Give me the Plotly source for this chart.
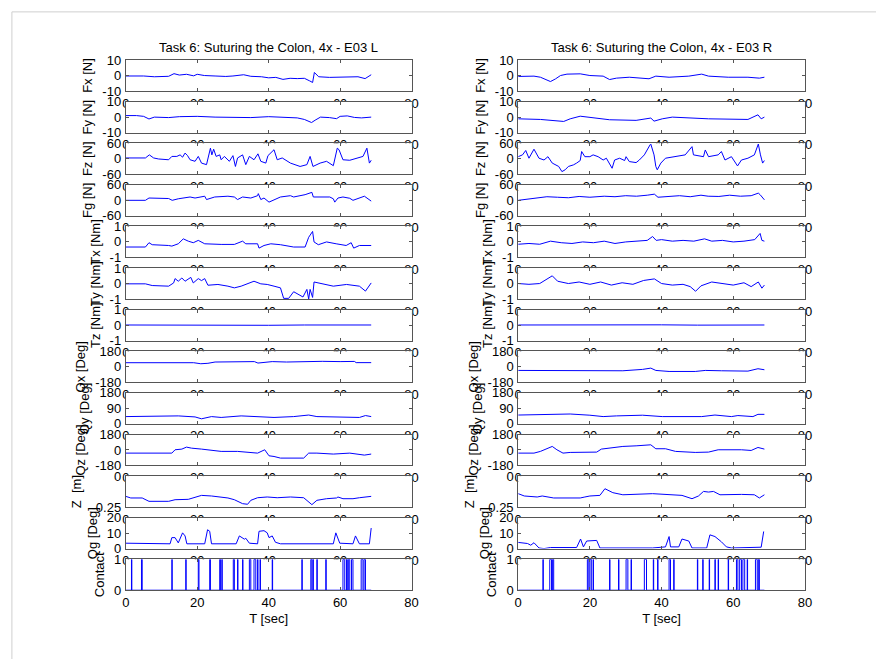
import plotly.graph_objects as go

# ---------------- data ----------------
x_ticks = [0, 20, 40, 60, 80]

# ---- left hand (E03 L) ----
fx_l_t = [0, 5, 8, 12, 13.5, 15, 17, 19, 20, 22, 25, 28, 30, 33, 35, 38, 40, 42, 44, 46, 48, 50, 51.5, 52.3, 52.8, 54, 57, 60, 63, 65, 67, 68.7]
fx_l_v = [-0.3, -0.3, -0.8, -0.5, 1.2, 0.3, 0.8, -0.2, 0.8, 0, -0.3, -0.6, -0.3, 0.5, -0.5, -0.8, -1.5, -1.2, -2.5, -1.8, -2.0, -1.8, -3.5, -4.5, 2.0, -0.8, -1.2, -1.0, -1.0, -0.8, -2.0, 0.5]

fy_l_t = [0, 3, 5, 6.5, 8, 12, 15, 20, 25, 30, 35, 40, 45, 48, 50, 52, 53, 54.5, 57, 59, 60, 62, 64, 66, 68.7]
fy_l_v = [1.0, 1.0, 0.5, -1.2, 0, -0.3, 0.3, 0.5, 0, 0, -0.3, 0.3, 0, -0.5, -1.5, -3.5, -2.0, 0, -0.3, -1, 0.5, 0.8, -0.2, -0.5, 0]

fz_l_t = [0, 5.5, 6.6, 7.8, 9.2, 12, 12.9, 14.3, 15.2, 15.9, 16.6, 17.3, 18, 19.4, 20.3, 21.2, 22.6, 23.7, 24.1, 24.6, 25.3, 26.3, 26.7, 27.6, 29, 30, 30.7, 31.3, 32.7, 33.6, 34.6, 35.9, 37, 37.8, 39.2, 39.8, 41.5, 42.4, 43.8, 46.1, 48.8, 50.7, 51.6, 52.4, 54.4, 56.2, 58.1, 59.2, 59.7, 60.8, 62.7, 65, 66.4, 67.5, 68.2, 68.7]
fz_l_v = [3, 3, 15, 3, -1, -4, 9, 9, 15, 6, 22, 12, -4, -10, 9, -17, -23, 41, 15, 37, 9, 15, -4, 9, -10, 12, -30, 3, 15, -23, 9, -4, 19, -10, -17, 12, 35, -4, 3, -17, -30, -23, 9, -30, -17, -10, -27, 41, 35, -4, -6, 3, 9, 41, -17, -6]

fg_l_t = [0, 5.5, 6.5, 12, 13, 14.7, 18, 19.4, 22.1, 22.6, 24.9, 28.6, 30.4, 31.3, 32.7, 35, 36.9, 37.1, 37.8, 38.7, 40.1, 41.5, 43.3, 46.1, 47, 50.2, 52.1, 52.5, 55.3, 57.1, 58.1, 58.5, 59.4, 60.8, 62.7, 63.6, 66.8, 68.7]
fg_l_v = [0, 0, 9, 7, 0, 6, 13, 9, 16, 3, 13, 16, 13, 3, 13, 9, 18, 26, 3, 9, -7, 3, 13, 18, 13, 22, 31, 13, 13, 13, 6, -7, 9, 13, 8, 0, 16, -3]

tx_l_t = [0, 5.5, 6.5, 7.4, 12, 12.9, 14.7, 16.1, 17.5, 18.9, 20.3, 22.1, 26.7, 30.4, 32.7, 33.6, 36.9, 37.3, 38.7, 40.6, 43.3, 47, 50.2, 51.2, 52.3, 52.7, 53.9, 56.2, 58.9, 61.7, 63.1, 63.8, 65.4, 68.7]
tx_l_v = [-0.33, -0.33, -0.05, -0.18, -0.23, -0.27, -0.12, 0.2, 0.05, -0.05, 0.1, -0.12, -0.16, -0.16, 0.05, -0.12, -0.12, -0.4, -0.23, -0.12, -0.18, -0.33, -0.33, 0.3, 0.68, 0, -0.18, 0, -0.12, -0.23, -0.05, -0.4, -0.23, -0.23]

ty_l_t = [0, 5.5, 7.4, 12, 13.4, 13.8, 14.7, 15.7, 16.6, 18.2, 18.9, 20.3, 21.2, 22.1, 23, 25.8, 28.6, 30.4, 32.3, 35, 35.9, 37.8, 39.6, 41.5, 43.3, 44.2, 45.6, 47, 49.6, 50.7, 51.2, 51.6, 52.3, 52.7, 56.2, 58.1, 61.8, 65.4, 67.1, 68.7]
ty_l_v = [-0.02, -0.02, -0.13, -0.17, 0.04, 0.32, 0.15, 0.36, 0.15, 0.4, 0.04, 0.32, 0.19, 0.32, -0.11, -0.06, -0.17, -0.28, -0.17, 0.04, 0.15, -0.02, -0.06, -0.17, -0.28, -0.96, -0.96, -0.53, -0.87, -0.38, -1.0, -0.38, -0.9, 0.1, -0.06, -0.17, -0.06, -0.17, -0.49, 0.04]

tz_l_t = [0, 10, 20, 30, 40, 50, 60, 68.7]
tz_l_v = [0.01, 0.0, 0.02, 0.01, -0.01, 0.01, 0.0, 0.01]

qx_l_t = [0, 19, 21, 23, 25, 30, 36, 37, 39, 41, 45, 50, 55, 60, 64, 64.5, 68.7]
qx_l_v = [47, 47, 35, 40, 55, 60, 60, 43, 53, 60, 55, 60, 63, 60, 62, 48, 48]

qy_l_t = [0, 14.7, 19.4, 21.2, 24, 26.7, 32.3, 37.8, 41.5, 47, 51.2, 53.5, 59.9, 65.4, 67.1, 68.7]
qy_l_v = [42, 46, 40, 29, 42, 37, 46, 40, 37, 42, 51, 42, 40, 37, 48, 42]

qz_l_t = [0, 12.9, 13.8, 15.7, 17, 18.4, 21.2, 24, 26.7, 31.3, 34.1, 36.9, 38.9, 40.1, 41.5, 43.3, 49.8, 51.2, 53.5, 58.1, 62.7, 66.8, 68.7]
qz_l_v = [-37, -37, 2, 10, 33, 21, 10, -6, -17, -17, -29, -37, 2, -68, -76, -95, -95, -37, -37, -48, -37, -60, -48]

z_l_t = [0, 1.4, 4.6, 6.5, 12, 13.8, 17.5, 18.9, 20.3, 21.2, 24, 28.6, 30.4, 32.7, 34.1, 35, 36.9, 39.6, 42.4, 46.1, 49.8, 51.2, 52.1, 53.5, 56.2, 59, 59.4, 60.8, 63.6, 65.4, 68.7]
z_l_v = [-0.164, -0.177, -0.177, -0.204, -0.204, -0.191, -0.188, -0.177, -0.164, -0.156, -0.161, -0.177, -0.191, -0.223, -0.228, -0.196, -0.175, -0.169, -0.175, -0.169, -0.175, -0.21, -0.231, -0.196, -0.183, -0.177, -0.169, -0.183, -0.183, -0.175, -0.164]

qg_l_t = [0, 4.6, 5.5, 12.4, 12.9, 13.8, 14.7, 15.9, 16.6, 17.1, 22.1, 22.9, 23.5, 24, 30.9, 31.8, 33.2, 33.6, 34.6, 36.9, 37.3, 38.7, 39.6, 40.1, 41, 41.9, 43.3, 58.1, 58.8, 59.9, 63.6, 64.3, 65.4, 68.2, 68.7]
qg_l_v = [3.5, 3.5, 3.1, 3.1, 7.1, 7.1, 3.7, 10.2, 8.2, 3.1, 3.1, 12.2, 11.2, 3.1, 3.1, 8.2, 6.1, 6.7, 3.5, 3.1, 11.2, 11.6, 10.2, 7.1, 8.2, 4.1, 3.1, 3.1, 10.2, 3.5, 3.1, 8.2, 3.1, 3.1, 13.3]

contact_l_on = [1.6, 4.4, 12.9, 16.8, 20.3, 23.5, 26.3, 26.9, 30.1, 31.3, 32.7, 34.6, 35.9, 36.9, 37.6, 41.0, 49.3, 51.8, 52.4, 53.5, 56.0, 60.8, 61.8, 62.3, 63.2, 65.9, 66.7]
contact_l_off = [1.7, 4.6, 13.0, 16.9, 20.5, 23.7, 26.5, 27.0, 30.4, 31.4, 32.8, 35.0, 36.4, 37.0, 37.7, 41.1, 49.4, 52.1, 52.5, 53.6, 56.1, 61.3, 62.0, 62.7, 63.6, 66.4, 67.1]
t_end_l = 68.7

# ---- right hand (E03 R) ----
fx_r_t = [0, 4.4, 6.2, 9, 10.4, 11.8, 13.6, 17.3, 20, 23.7, 25.5, 27.4, 31, 36.5, 38.4, 42.1, 47.6, 51.2, 53.1, 58.6, 64.1, 67.3, 68.7]
fx_r_v = [-0.6, -0.4, -1.1, -3.9, -2.2, 0, 0.9, 1.1, 0, -0.4, -2.6, -1.7, -1.1, -2.1, -0.4, -1.1, -0.4, 0.9, -0.4, -1.1, -1.1, -1.7, -1.1]

fy_r_t = [0, 6.2, 12.7, 14.5, 17.3, 20.9, 25.5, 32.9, 37, 37.9, 40.2, 43, 47.6, 53.1, 64.1, 66.9, 67.8, 68.7]
fy_r_v = [-1.1, -1.5, -2.8, -1.1, 0.6, -0.4, -1.7, -2.1, -0.6, -2.6, -1.1, 0, -0.6, -1.1, -1.5, 1.5, -1.1, 0]

fz_r_t = [0, 1.2, 2.1, 3, 4.4, 5.8, 7.2, 8.3, 9.5, 10.4, 11.3, 12.2, 13.1, 14, 15.4, 16.3, 17.3, 17.7, 18.6, 20, 20.9, 22.3, 23.7, 24.6, 26.2, 26.9, 28.3, 29.7, 30.1, 31, 32.9, 33.8, 35.2, 36.8, 37, 37.9, 38.4, 38.8, 39.8, 41.1, 43.9, 46.6, 48.5, 48.9, 51.7, 52.2, 53.1, 55.8, 56.7, 57.7, 59.5, 61.2, 62.3, 64.1, 65.9, 67, 67.6, 68.2, 68.7]
fz_r_v = [8, 15, 32, 2, 37, 2, -5, 8, -17, -24, -30, -50, -43, -30, -24, -17, -7, 28, 8, 8, 15, 8, -5, 2, -37, -5, 2, -7, 8, -11, -15, -5, 15, 54, 57, 15, -30, -43, -17, 2, 8, 15, 47, 15, 8, 34, 8, 15, 28, -5, 8, -28, -5, 2, 15, 57, 15, -17, -7]

fg_r_t = [0, 2, 5, 8, 11, 14, 17, 20, 24, 27, 30, 33, 36, 38, 39, 42, 45, 48, 51, 53, 56, 59, 62, 65, 67, 67.5, 68, 68.7]
fg_r_v = [0, 3, 8, 14, 12, 10, 15, 12, 16, 14, 18, 16, 20, 24, 12, 15, 18, 14, 20, 16, 15, 20, 16, 18, 28, 22, 12, 2]

tx_r_t = [0, 3, 6, 9, 12, 15, 18, 21, 24, 27, 30, 33, 36, 37.5, 38.5, 40, 43, 46, 49, 52, 54, 57, 60, 63, 66, 67.5, 68, 68.7]
tx_r_v = [-0.15, -0.1, -0.15, 0.05, -0.05, -0.1, 0, -0.05, 0.05, -0.1, 0, 0.05, 0.1, 0.35, 0.1, 0.15, 0.05, 0.1, 0.05, 0.2, 0.05, 0.1, 0, 0.05, 0.15, 0.55, 0.1, 0.05]

ty_r_t = [0, 3, 6, 8, 9.5, 11, 14, 17, 20, 23, 26, 29, 32, 35, 38, 40, 43, 46, 48, 49.5, 51, 54, 57, 60, 63, 65, 67, 68, 68.7]
ty_r_v = [0, -0.05, 0, 0.3, 0.5, 0.15, 0, 0.1, -0.05, 0.1, -0.1, 0.05, -0.05, 0.2, 0.3, 0, -0.1, -0.05, -0.2, -0.5, -0.15, 0.1, 0, -0.1, 0.05, -0.2, 0.1, -0.3, -0.1]

tz_r_t = [0, 10, 20, 30, 40, 50, 60, 68.7]
tz_r_v = [0.01, 0.02, 0.0, 0.01, 0.02, 0.0, 0.01, 0.01]

qx_r_t = [0, 20, 21.9, 29.2, 34.7, 37, 38.4, 42.1, 49.4, 52.2, 56.7, 64.1, 66.9, 68.7]
qx_r_v = [-43, -43, -51, -47, -31, -16, -43, -55, -55, -43, -47, -51, -23, -35]

qy_r_t = [0, 6.2, 14.5, 20, 23.7, 27.4, 34.7, 40.2, 47.6, 51.2, 54.9, 59.5, 61.3, 65.5, 66.9, 68.7]
qy_r_v = [51, 55, 57, 50, 42, 46, 50, 42, 44, 42, 51, 42, 48, 42, 55, 55]

qz_r_t = [0, 4.4, 6.2, 9.5, 10.8, 12.5, 14.5, 21.9, 23.2, 26.4, 29.2, 32.9, 37, 38.4, 41.1, 43.9, 49.4, 53.1, 55.8, 62.3, 65, 66.9, 68.7]
qz_r_v = [-37, -37, -17, 41, 2, -37, -29, -25, 10, 29, 41, 48, 60, 14, 14, -17, -29, -25, 2, 2, -6, 29, 10]

z_r_t = [0, 1.7, 5.3, 6.7, 9.9, 17.3, 18.6, 20, 22.8, 24.2, 26.4, 29.2, 37.5, 42.1, 45.7, 48.5, 50.3, 51.7, 53.1, 54.5, 56.3, 62.3, 65.9, 67.3, 68.7]
z_r_v = [-0.142, -0.161, -0.169, -0.161, -0.177, -0.177, -0.169, -0.161, -0.156, -0.102, -0.134, -0.151, -0.142, -0.151, -0.156, -0.183, -0.161, -0.124, -0.129, -0.124, -0.151, -0.148, -0.151, -0.177, -0.151]

qg_r_t = [0, 2.6, 3.5, 4.4, 5.8, 7.2, 9, 16.3, 17.4, 18.2, 19.1, 21.9, 22.8, 37.5, 41.1, 42.1, 42.5, 44.8, 45.7, 47.6, 48.5, 52.6, 53.5, 54.9, 56.7, 58.1, 59.5, 67.8, 68.5]
qg_r_v = [4, 3.3, 2.2, 3.8, 0.4, 0, 0.7, 0.7, 6.2, 1.1, 4.9, 5.3, 0.4, 0.4, 1.1, 7.8, 1.1, 1.1, 6.2, 4.9, 0.4, 0.4, 8.9, 7.8, 4.4, 1.1, 0.4, 0.9, 11.1]

contact_r_on = [6.9, 8.8, 9.6, 19.3, 20.0, 20.9, 25.5, 28.0, 30.1, 31.5, 35.2, 37.7, 38.9, 42.1, 43.4, 50.0, 51.5, 53.3, 54.9, 55.8, 58.6, 60.9, 61.8, 62.7, 63.9, 66.2, 67.0]
contact_r_off = [7.0, 9.3, 9.9, 19.7, 20.4, 21.0, 25.6, 28.1, 30.6, 31.6, 35.8, 37.8, 39.0, 42.5, 43.5, 50.1, 51.6, 53.4, 55.0, 55.9, 58.7, 61.3, 62.3, 63.2, 64.0, 66.7, 67.3]
t_end_r = 68.7

col_titles = ["Task 6: Suturing the Colon, 4x - E03 L", "Task 6: Suturing the Colon, 4x - E03 R"]
x_title = "T [sec]"
row_labels = ["Fx [N]", "Fy [N]", "Fz [N]", "Fg [N]", "Tx [Nm]", "Ty [Nm]", "Tz [Nm]",
              "Qx [Deg]", "Qy [Deg]", "Qz [Deg]", "Z\u00a0 [m]", "Qg [Deg]", "Contact"]
row_tickvals = [[-10, 0, 10], [-10, 0, 10], [-60, 0, 60], [-60, 0, 60], [-1, 0, 1], [-1, 0, 1], [-1, 0, 1],
                [-180, 0, 180], [0, 90, 180], [-180, 0, 180], [-0.25, 0], [0, 10, 20], [0, 1]]
row_ticktext = [["-10", "0", "10"], ["-10", "0", "10"], ["-60", "0", "60"], ["-60", "0", "60"],
                ["-1", "0", "1"], ["-1", "0", "1"], ["-1", "0", "1"],
                ["-180", "0", "180"], ["0", "90", "180"], ["-180", "0", "180"], ["-0.25", "0"],
                ["0", "10", "20"], ["0", "1"]]


def step_series(on, off, t_end):
    xs, ys = [0], [0]
    for a, b in zip(on, off):
        xs += [a, a, b, b]
        ys += [0, 1, 1, 0]
    xs.append(t_end)
    ys.append(0)
    return xs, ys


cl_t, cl_v = step_series(contact_l_on, contact_l_off, t_end_l)
cr_t, cr_v = step_series(contact_r_on, contact_r_off, t_end_r)

left_series = [(fx_l_t, fx_l_v), (fy_l_t, fy_l_v), (fz_l_t, fz_l_v), (fg_l_t, fg_l_v),
               (tx_l_t, tx_l_v), (ty_l_t, ty_l_v), (tz_l_t, tz_l_v), (qx_l_t, qx_l_v),
               (qy_l_t, qy_l_v), (qz_l_t, qz_l_v), (z_l_t, z_l_v), (qg_l_t, qg_l_v), (cl_t, cl_v)]
right_series = [(fx_r_t, fx_r_v), (fy_r_t, fy_r_v), (fz_r_t, fz_r_v), (fg_r_t, fg_r_v),
                (tx_r_t, tx_r_v), (ty_r_t, ty_r_v), (tz_r_t, tz_r_v), (qx_r_t, qx_r_v),
                (qy_r_t, qy_r_v), (qz_r_t, qz_r_v), (z_r_t, z_r_v), (qg_r_t, qg_r_v), (cr_t, cr_v)]

# ---------------- layout geometry (pixels) ----------------
W, H = 883, 667
FONT = "Liberation Sans, Arial, Helvetica, sans-serif"
AXC = "#555555"
BLUE = "#0000ff"
TOP0, PITCH, PH = 54.3, 42.56, 31.6
COLS = [(123.3, 412.7), (520.7, 811.0)]
NROW = 13

fig = go.Figure()
# invisible host trace on a full-page subplot: every panel then paints its own
# background, so a lower panel hides the x tick labels of the panel above it.
fig.add_trace(go.Scatter(x=[None], y=[None], mode="lines", xaxis="x", yaxis="y",
                         hoverinfo="skip", showlegend=False))

layout = dict(
    width=W, height=H, margin=dict(l=0, r=0, t=0, b=0),
    paper_bgcolor="white", plot_bgcolor="white", showlegend=False,
    font=dict(family=FONT, size=13, color="black"),
    xaxis=dict(domain=[0, 1], anchor="y", range=[0, 1], showline=False, showgrid=False,
               zeroline=False, showticklabels=False, ticks=""),
    yaxis=dict(domain=[0, 1], anchor="x", range=[0, 1], showline=False, showgrid=False,
               zeroline=False, showticklabels=False, ticks=""),
)

for c, series in enumerate([left_series, right_series]):
    x0, x1 = COLS[c]
    for r in range(NROW):
        n = 2 + c * NROW + r
        top = TOP0 + r * PITCH
        ydom = [1 - (top + PH) / H, 1 - top / H]
        xdom = [x0 / W, x1 / W]
        t, v = series[r]
        fig.add_trace(go.Scatter(x=t, y=v, mode="lines", line=dict(color=BLUE, width=1),
                                 xaxis=f"x{n}", yaxis=f"y{n}", hoverinfo="skip", showlegend=False))
        xa = dict(domain=xdom, anchor=f"y{n}", range=[0, 80], tickvals=x_ticks,
                  ticks="inside", ticklen=3, tickcolor=AXC, showline=True, linecolor=AXC,
                  linewidth=1, mirror="ticks", showgrid=False, zeroline=False,
                  tickfont=dict(size=13, color="black", family=FONT))
        if r == NROW - 1:
            xa["title"] = dict(text=x_title, font=dict(size=13, family=FONT), standoff=5)
        ya = dict(domain=ydom, anchor=f"x{n}",
                  range=[row_tickvals[r][0], row_tickvals[r][-1]],
                  tickvals=row_tickvals[r], ticktext=row_ticktext[r],
                  ticks="inside", ticklen=3, tickcolor=AXC, showline=True, linecolor=AXC,
                  linewidth=1, mirror="ticks", showgrid=False, zeroline=False,
                  ticklabelstandoff=1,
                  tickfont=dict(size=13, color="black", family=FONT),
                  title=dict(text=row_labels[r], font=dict(size=13, family=FONT), standoff=6))
        layout[f"xaxis{n}"] = xa
        layout[f"yaxis{n}"] = ya

annotations = []
for c in range(2):
    x0, x1 = COLS[c]
    annotations.append(dict(text=col_titles[c], xref="paper", yref="paper",
                            x=(x0 + x1) / 2 / W, y=1 - 41.5 / H, xanchor="center", yanchor="middle",
                            showarrow=False, font=dict(size=13, family=FONT, color="black")))
layout["annotations"] = annotations
layout["shapes"] = [
    dict(type="line", xref="paper", yref="paper", x0=8 / W, x1=1, y0=1 - 5 / H, y1=1 - 5 / H,
         line=dict(color="#cfcfcf", width=1)),
    dict(type="line", xref="paper", yref="paper", x0=8 / W, x1=8 / W, y0=0, y1=1 - 5 / H,
         line=dict(color="#cfcfcf", width=1)),
]
fig.update_layout(**layout)
fig.write_html("out.html", config={"displayModeBar": False},
               post_script="document.body.style.margin='0';document.body.style.overflow='hidden';")
